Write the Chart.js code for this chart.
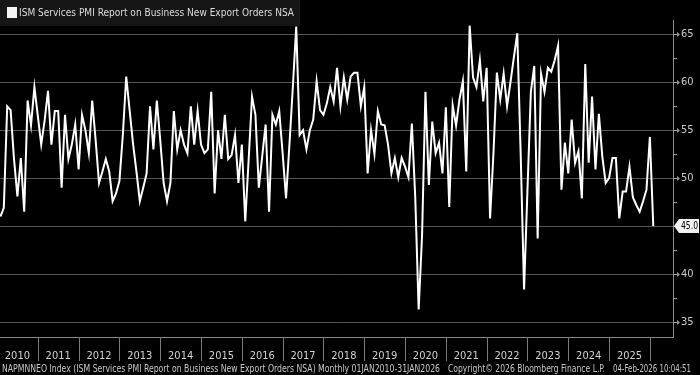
<!DOCTYPE html>
<html>
<head>
<meta charset="utf-8">
<script src="https://cdn.jsdelivr.net/npm/chart.js@4"></script>
<style>
  html, body { margin: 0; padding: 0; background: #000; }
  #wrap { width: 700px; height: 375px; }
</style>
</head>
<body>
<div id="wrap"><canvas id="chart" width="700" height="375"></canvas></div>
<script>
// ISM Services PMI - New Export Orders NSA, monthly Jan 2010 .. Jan 2026
const years = ["2010", "2011", "2012", "2013", "2014", "2015", "2016", "2017",
  "2018", "2019", "2020", "2021", "2022", "2023", "2024", "2025"];

const values = [
  // 2010
  46.0, 46.9, 57.5, 57.1, 52.0, 48.1, 52.1, 46.5, 58.1, 55.5, 59.5, 56.5,
  // 2011
  53.5, 56.0, 59.1, 53.5, 57.0, 57.0, 49.0, 56.6, 52.0, 53.5, 55.6, 50.9,
  // 2012
  56.6, 55.0, 52.6, 58.1, 54.0, 49.5, 50.7, 52.0, 50.7, 47.6, 48.4, 49.7,
  // 2013
  54.5, 60.6, 57.1, 53.6, 50.7, 47.6, 49.0, 50.5, 57.5, 53.0, 58.1, 54.0,
  // 2014
  49.5, 47.6, 49.5, 57.0, 53.0, 55.0, 53.5, 52.6, 57.5, 53.5, 57.0, 53.5,
  // 2015
  52.6, 53.0, 59.0, 48.4, 55.0, 52.0, 56.6, 52.0, 52.4, 54.5, 49.5, 53.5,
  // 2016
  45.5, 51.9, 58.5, 56.6, 49.0, 52.3, 55.6, 46.5, 56.6, 55.6, 57.0, 52.6,
  // 2017
  47.9, 53.5, 59.5, 65.8, 54.5, 55.0, 53.0, 55.0, 56.1, 60.1, 57.1, 56.6,
  // 2018
  57.8, 59.5, 58.0, 61.5, 57.5, 60.5, 58.2, 60.6, 61.0, 61.0, 57.5, 59.5,
  // 2019
  50.5, 55.0, 52.5, 57.0, 55.6, 55.5, 53.5, 50.5, 52.1, 50.1, 52.1, 51.2,
  // 2020
  50.1, 55.7, 48.0, 36.3, 44.0, 59.0, 49.3, 55.9, 52.6, 53.7, 50.5, 57.4,
  // 2021
  47.0, 57.6, 55.5, 58.2, 60.1, 50.7, 65.9, 60.5, 59.5, 62.3, 58.0, 61.5,
  // 2022
  45.8, 52.6, 61.0, 58.2, 60.9, 57.5, 60.0, 62.6, 65.1, 52.6, 38.4, 48.8,
  // 2023
  59.0, 61.7, 43.7, 60.9, 59.0, 61.5, 61.1, 62.3, 63.8, 48.8, 53.7, 50.5,
  // 2024
  56.1, 51.6, 52.8, 47.9, 61.9, 51.6, 58.5, 50.9, 56.7, 52.3, 49.5, 50.0,
  // 2025
  52.1, 52.1, 45.8, 48.6, 48.6, 51.2, 48.0, 47.2, 46.5, 47.6, 48.8, 54.3,
  // 2026
  45.0
];

const yTicks = [35, 40, 45, 50, 55, 60, 65];
const yMinorTicks = [37.5, 42.5, 47.5, 52.5, 57.5, 62.5];

const legendText = "ISM Services PMI Report on Business New Export Orders NSA";
const footerLeft = "NAPMNNEO Index (ISM Services PMI Report on Business New Export Orders NSA) Monthly 01JAN2010-31JAN2026";
const footerMid = "Copyright\u00a9 2026 Bloomberg Finance L.P.";
const footerRight = "04-Feb-2026 10:04:51";

const FONT = '"Liberation Sans Narrow", "Arial Narrow", "DejaVu Sans Condensed", "Liberation Sans", sans-serif';

// draw text squeezed to a given width
function fitText(ctx, text, x, y, width) {
  let w = ctx.measureText(text).width;
  ctx.save();
  ctx.translate(x, y);
  ctx.scale(width / w, 1);
  ctx.fillText(text, 0, 0);
  ctx.restore();
}

const bbgPlugin = {
  id: "bbg",
  beforeDraw(chart) {
    let ctx = chart.ctx;
    ctx.save();
    ctx.fillStyle = "#000";
    ctx.fillRect(0, 0, chart.width, chart.height);
    ctx.restore();
  },
  afterDraw(chart) {
    let ctx = chart.ctx;
    let xs = chart.scales.x;
    let ys = chart.scales.y;
    let area = chart.chartArea;

    ctx.save();

    // year separators under the axis
    ctx.strokeStyle = "#7a7a7a";
    ctx.lineWidth = 1;
    years.forEach((y, k) => {
      let x = Math.round(xs.getPixelForValue(11 + 12 * k)) + 0.5;
      ctx.beginPath();
      ctx.moveTo(x, area.bottom);
      ctx.lineTo(x, 361);
      ctx.stroke();
    });

    // right axis tick marks
    ctx.strokeStyle = "#9a9a9a";
    ctx.fillStyle = "#9a9a9a";
    yTicks.forEach(v => {
      let y = Math.round(ys.getPixelForValue(v)) + 0.5;
      ctx.beginPath();
      ctx.moveTo(area.right, y);
      ctx.lineTo(area.right + 5, y);
      ctx.stroke();
      ctx.beginPath();
      ctx.moveTo(area.right + 4, y - 2.5);
      ctx.lineTo(area.right + 7, y);
      ctx.lineTo(area.right + 4, y + 2.5);
      ctx.fill();
    });
    yMinorTicks.forEach(v => {
      let y = Math.round(ys.getPixelForValue(v)) + 0.5;
      ctx.beginPath();
      ctx.moveTo(area.right, y);
      ctx.lineTo(area.right + 4, y);
      ctx.stroke();
    });

    // last value tag
    let last = values[values.length - 1];
    let ly = ys.getPixelForValue(last);
    let lx = area.right + 1;
    ctx.fillStyle = "#f2f2f2";
    ctx.beginPath();
    ctx.moveTo(lx, ly);
    ctx.lineTo(lx + 5, ly - 7);
    ctx.lineTo(699, ly - 7);
    ctx.lineTo(699, ly + 7);
    ctx.lineTo(lx + 5, ly + 7);
    ctx.closePath();
    ctx.fill();
    ctx.fillStyle = "#000";
    ctx.font = "11px " + FONT;
    ctx.textBaseline = "middle";
    ctx.textAlign = "left";
    fitText(ctx, last.toFixed(1), lx + 7, ly + 0.5, 17);

    // legend box
    ctx.fillStyle = "#161616";
    ctx.fillRect(0, 0, 300, 26);
    ctx.fillStyle = "#f4f4f4";
    ctx.fillRect(7, 7, 10, 11);
    ctx.fillStyle = "#dcdcdc";
    ctx.font = "11px " + FONT;
    ctx.textBaseline = "middle";
    fitText(ctx, legendText, 19, 13, 275);

    // footer
    ctx.fillStyle = "#c8c8c8";
    ctx.font = "10px " + FONT;
    ctx.textBaseline = "middle";
    fitText(ctx, footerLeft, 2, 369, 438);
    fitText(ctx, footerMid, 448, 369, 157);
    fitText(ctx, footerRight, 613, 369, 78);

    ctx.restore();
  }
};

const points = values.map((v, i) => ({ x: i, y: v }));

const chart = new Chart(document.getElementById("chart"), {
  type: "line",
  data: {
    datasets: [{
      data: points,
      borderColor: "#ffffff",
      borderWidth: 2,
      pointRadius: 0,
      tension: 0
    }]
  },
  options: {
    responsive: false,
    animation: false,
    devicePixelRatio: 1,
    layout: { padding: { top: 20, left: 0, right: 0, bottom: 0 } },
    plugins: {
      legend: { display: false },
      tooltip: { enabled: false }
    },
    scales: {
      x: {
        type: "linear",
        min: -0.12,
        max: 197.8,
        grid: { display: false },
        border: { display: true, color: "#8a8a8a" },
        afterBuildTicks: s => { s.ticks = years.map((y, k) => ({ value: 5 + 12 * k })); },
        afterFit: s => { s.height = 38; s.paddingLeft = 0; s.paddingRight = 0; },
        ticks: {
          autoSkip: false,
          maxRotation: 0,
          padding: 5,
          color: "#d2d2d2",
          font: { family: FONT, size: 11 },
          callback: v => years[Math.round((v - 5) / 12)]
        }
      },
      y: {
        position: "right",
        min: 33.44,
        max: 66.49,
        afterBuildTicks: s => { s.ticks = yTicks.map(v => ({ value: v })); },
        afterFit: s => { s.width = 27; s.paddingTop = 0; s.paddingBottom = 0; },
        grid: { color: "#555555", drawTicks: false },
        border: { display: true, color: "#8a8a8a" },
        ticks: {
          padding: 8,
          color: "#c8c8c8",
          font: { family: FONT, size: 11 },
          callback: v => String(v)
        }
      }
    }
  },
  plugins: [bbgPlugin]
});
</script>
</body>
</html>
